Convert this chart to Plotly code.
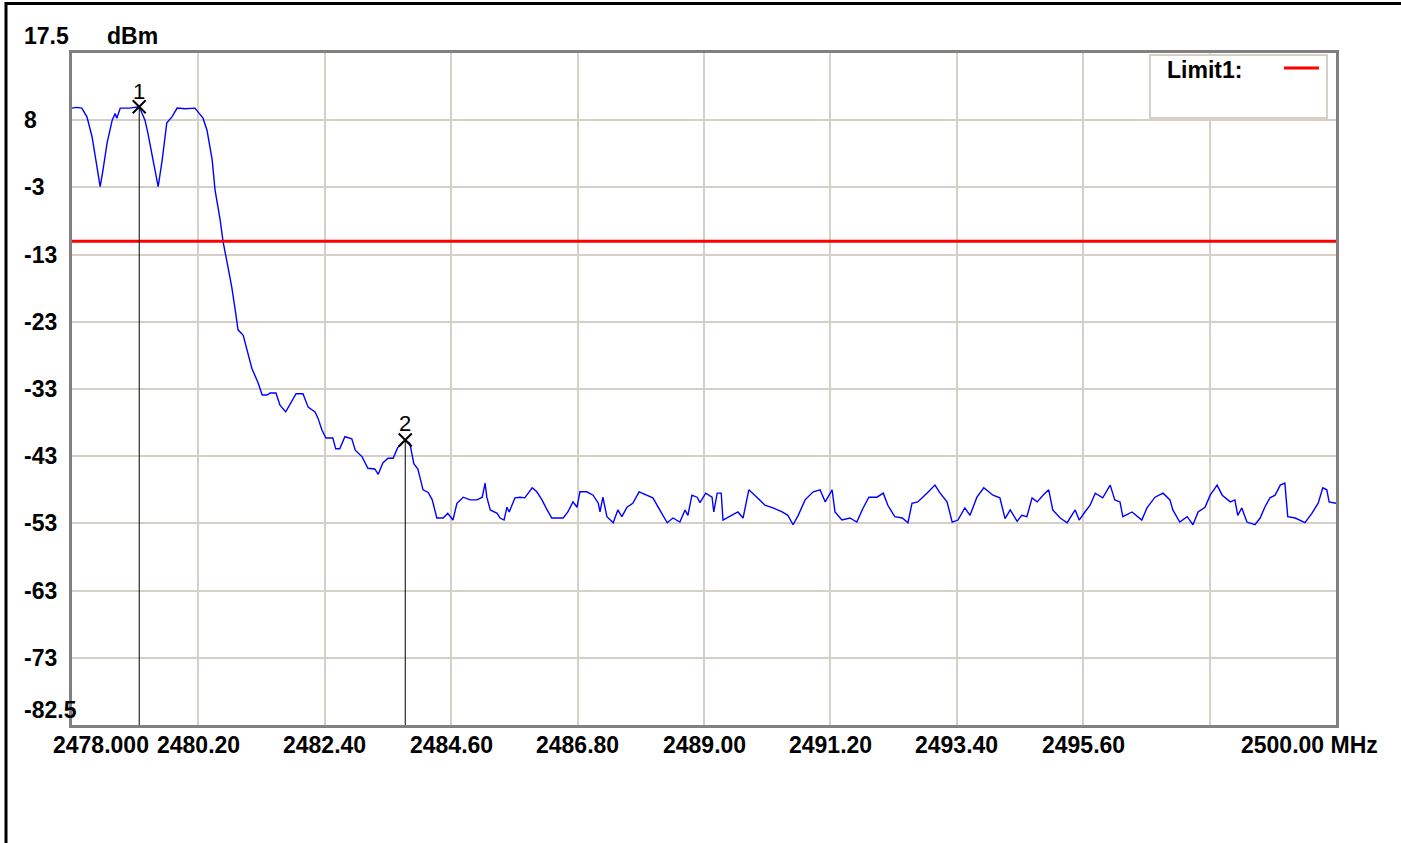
import plotly.graph_objects as go

# ---------------- data ----------------
freq_mhz = [
    2478.00, 2478.08, 2478.17, 2478.26, 2478.35, 2478.44, 2478.49, 2478.54, 2478.61, 2478.70,
    2478.75, 2478.78, 2478.84, 2479.00, 2479.17, 2479.27, 2479.32, 2479.41, 2479.50, 2479.57,
    2479.65, 2479.74, 2479.83, 2479.97, 2480.14, 2480.28, 2480.35, 2480.44, 2480.49, 2480.58,
    2480.63, 2480.70, 2480.78, 2480.84, 2480.89, 2480.98, 2481.06, 2481.13, 2481.24, 2481.31,
    2481.39, 2481.45, 2481.55, 2481.62, 2481.72, 2481.79, 2481.90, 2482.02, 2482.11, 2482.23,
    2482.28, 2482.35, 2482.42, 2482.54, 2482.59, 2482.66, 2482.75, 2482.87, 2482.93, 2483.05,
    2483.15, 2483.27, 2483.33, 2483.41, 2483.50, 2483.59, 2483.67, 2483.80, 2483.88, 2483.95,
    2484.02, 2484.11, 2484.20, 2484.27, 2484.35, 2484.46, 2484.54, 2484.63, 2484.70, 2484.81,
    2484.93, 2485.05, 2485.14, 2485.19, 2485.22, 2485.28, 2485.40, 2485.45, 2485.52, 2485.57,
    2485.61, 2485.71, 2485.80, 2485.88, 2486.01, 2486.09, 2486.18, 2486.27, 2486.35, 2486.55,
    2486.63, 2486.72, 2486.79, 2486.84, 2486.96, 2487.07, 2487.16, 2487.19, 2487.24, 2487.31,
    2487.42, 2487.50, 2487.57, 2487.66, 2487.76, 2487.87, 2488.01, 2488.11, 2488.23, 2488.36,
    2488.46, 2488.58, 2488.67, 2488.72, 2488.79, 2488.88, 2488.93, 2489.03, 2489.14, 2489.17,
    2489.23, 2489.30, 2489.33, 2489.45, 2489.59, 2489.68, 2489.78, 2489.92, 2490.06, 2490.20,
    2490.36, 2490.46, 2490.55, 2490.64, 2490.76, 2490.90, 2491.02, 2491.11, 2491.23, 2491.28,
    2491.40, 2491.54, 2491.66, 2491.77, 2491.87, 2492.01, 2492.12, 2492.20, 2492.32, 2492.45,
    2492.55, 2492.62, 2492.72, 2492.88, 2493.02, 2493.11, 2493.23, 2493.32, 2493.42, 2493.54,
    2493.63, 2493.75, 2493.87, 2494.03, 2494.15, 2494.24, 2494.33, 2494.45, 2494.53, 2494.62,
    2494.71, 2494.80, 2494.90, 2495.00, 2495.07, 2495.20, 2495.32, 2495.46, 2495.53, 2495.63,
    2495.72, 2495.81, 2495.94, 2496.07, 2496.15, 2496.24, 2496.29, 2496.45, 2496.62, 2496.71,
    2496.85, 2496.99, 2497.11, 2497.16, 2497.28, 2497.41, 2497.51, 2497.60, 2497.72, 2497.81,
    2497.93, 2498.02, 2498.16, 2498.24, 2498.29, 2498.36, 2498.45, 2498.59, 2498.68, 2498.76,
    2498.85, 2498.94, 2499.03, 2499.11, 2499.16, 2499.29, 2499.37, 2499.46, 2499.58, 2499.69,
    2499.77, 2499.84, 2499.88, 2500.00,
]
level_dbm = [
    9.3, 9.4, 9.3, 8.0, 5.0, 0.5, -2.4, 0.1, 4.1, 7.5,
    8.5, 7.8, 9.3, 9.3, 9.5, 7.5, 5.6, 1.6, -2.4, 1.6,
    7.1, 8.0, 9.3, 9.2, 9.3, 7.8, 6.0, 1.6, -2.9, -7.4,
    -10.6, -13.7, -17.3, -20.7, -23.7, -24.5, -27.1, -29.4, -31.6, -33.4,
    -33.4, -33.1, -33.1, -34.9, -35.9, -34.9, -33.2, -33.2, -35.2, -35.9,
    -36.8, -38.6, -39.8, -39.8, -41.4, -41.4, -39.6, -39.9, -41.6, -42.6,
    -44.3, -44.4, -45.2, -43.5, -42.8, -42.8, -41.2, -40.1, -40.6, -43.6,
    -44.4, -47.5, -47.9, -49.0, -51.7, -51.7, -51.0, -52.0, -49.5, -48.6,
    -49.0, -49.0, -48.6, -46.5, -48.6, -50.5, -51.0, -51.7, -52.0, -50.1,
    -50.8, -48.7, -48.6, -48.7, -47.2, -47.8, -49.0, -50.5, -51.7, -51.7,
    -50.8, -49.3, -50.1, -47.8, -47.8, -48.3, -49.5, -50.8, -48.6, -51.5,
    -52.4, -50.5, -51.5, -50.1, -49.5, -47.8, -48.3, -48.7, -50.5, -52.4,
    -51.7, -52.3, -50.5, -51.3, -48.3, -48.6, -49.4, -48.0, -48.6, -50.8,
    -48.0, -48.0, -52.0, -51.5, -50.8, -51.7, -47.5, -48.6, -49.8, -50.2,
    -50.8, -51.3, -52.7, -51.3, -49.0, -47.8, -47.5, -49.3, -47.5, -50.8,
    -52.0, -51.7, -52.3, -50.2, -48.6, -48.6, -48.0, -49.8, -51.5, -51.7,
    -52.4, -49.5, -49.3, -48.0, -46.8, -48.0, -49.3, -52.3, -52.0, -50.2,
    -51.3, -48.6, -47.2, -48.3, -48.7, -51.8, -50.5, -52.2, -51.3, -51.5,
    -48.7, -49.3, -48.3, -47.5, -50.5, -51.7, -52.4, -50.5, -52.0, -50.8,
    -49.8, -48.0, -48.7, -46.8, -49.0, -49.3, -51.5, -50.8, -52.0, -50.2,
    -48.6, -48.0, -49.0, -50.5, -52.3, -51.5, -52.7, -50.8, -50.1, -48.3,
    -46.8, -48.3, -49.3, -49.0, -51.3, -50.2, -52.3, -52.7, -51.7, -50.1,
    -48.7, -48.3, -46.8, -46.5, -51.5, -51.7, -52.0, -52.4, -51.0, -49.5,
    -47.2, -47.5, -49.3, -49.5,
]

limit_dbm = -10.5
limit_name = "Limit1:"

marker_labels = ["1", "2"]
marker_freq = [2479.17, 2483.80]
marker_level = [9.5, -40.1]

x_min, x_max = 2478.0, 2500.0
y_min, y_max = -82.5, 17.5
x_grid = [2480.2, 2482.4, 2484.6, 2486.8, 2489.0, 2491.2, 2493.4, 2495.6, 2497.8]
y_grid = [7.5, -2.5, -12.5, -22.5, -32.5, -42.5, -52.5, -62.5, -72.5]

y_tick_vals = [17.5, 7.5, -2.5, -12.5, -22.5, -32.5, -42.5, -52.5, -62.5, -72.5, -82.5]
y_tick_text = ["17.5", "8", "-3", "-13", "-23", "-33", "-43", "-53", "-63", "-73", "-82.5"]
x_tick_vals = [2478.0, 2480.2, 2482.4, 2484.6, 2486.8, 2489.0, 2491.2, 2493.4, 2495.6, 2500.0]
x_tick_text = ["2478.000", "2480.20", "2482.40", "2484.60", "2486.80", "2489.00",
               "2491.20", "2493.40", "2495.60", "2500.00 MHz"]
y_unit = "dBm"

# ---------------- layout constants ----------------
W, H = 1401, 843
ML, MR, MT, MB = 72, 65, 53, 118
PW, PH = W - ML - MR, H - MT - MB
GRID = "#d4d0c8"
FRAME = "#808080"
FONT = dict(family="Liberation Sans, Arial, sans-serif", size=23, color="black", weight="bold")


def px_x(p):
    return (p - ML) / PW


def px_y(p):
    return (H - MB - p) / PH


fig = go.Figure()

fig.add_trace(go.Scatter(x=freq_mhz, y=level_dbm, mode="lines",
                         line=dict(color="#0000ff", width=1.4), hoverinfo="skip"))
fig.add_trace(go.Scatter(x=[x_min, x_max], y=[limit_dbm, limit_dbm], mode="lines",
                         line=dict(color="#ff0000", width=3), hoverinfo="skip"))
for f, v in zip(marker_freq, marker_level):
    fig.add_trace(go.Scatter(x=[f, f], y=[v, y_min], mode="lines",
                             line=dict(color="black", width=1), hoverinfo="skip"))
fig.add_trace(go.Scatter(x=marker_freq, y=marker_level, mode="markers",
                         marker=dict(symbol="x-thin", size=13, color="black",
                                     line=dict(color="black", width=2)),
                         hoverinfo="skip"))

annotations = []
for lab, f, v, ys in zip(marker_labels, marker_freq, marker_level, [15, 17]):
    annotations.append(dict(x=f, y=v, xref="x", yref="y", text=lab, showarrow=False,
                            yshift=ys, font=dict(FONT, size=22, weight="normal")))

for val, txt in zip(y_tick_vals, y_tick_text):
    ys = 0
    if val == y_max:
        ys = 17
    elif val == y_min:
        ys = 15
    annotations.append(dict(x=px_x(22), y=val, xref="paper", yref="y", text=txt,
                            showarrow=False, xanchor="left", yanchor="middle",
                            yshift=ys, font=FONT))
annotations.append(dict(x=px_x(105), y=y_max, xref="paper", yref="y", text=y_unit,
                        showarrow=False, xanchor="left", yanchor="middle", yshift=17,
                        font=FONT))
for val, txt in zip(x_tick_vals, x_tick_text):
    if val == x_min:
        annotations.append(dict(x=px_x(51), y=px_y(745), xref="paper", yref="paper",
                                text=txt, showarrow=False, xanchor="left",
                                yanchor="middle", font=FONT))
    elif val == x_max:
        annotations.append(dict(x=px_x(1239), y=px_y(745), xref="paper", yref="paper",
                                text=txt, showarrow=False, xanchor="left",
                                yanchor="middle", font=FONT))
    else:
        annotations.append(dict(x=val, y=px_y(745), xref="x", yref="paper",
                                text=txt, showarrow=False, xanchor="center",
                                yanchor="middle", font=FONT))
annotations.append(dict(x=px_x(1165), y=px_y(70), xref="paper", yref="paper",
                        text=limit_name, showarrow=False, xanchor="left",
                        yanchor="middle", font=FONT))

shapes = [
    dict(type="line", xref="paper", yref="paper", x0=px_x(6), x1=px_x(6),
         y0=px_y(2), y1=px_y(H + 2), line=dict(color="black", width=3)),
    dict(type="line", xref="paper", yref="paper", x0=px_x(5), x1=px_x(W + 2),
         y0=px_y(3.5), y1=px_y(3.5), line=dict(color="black", width=3)),
    dict(type="rect", xref="paper", yref="paper", x0=px_x(1150), x1=px_x(1327),
         y0=px_y(118), y1=px_y(55), fillcolor="white",
         line=dict(color=GRID, width=2), layer="above"),
    dict(type="line", xref="paper", yref="paper", x0=px_x(1284), x1=px_x(1319),
         y0=px_y(68), y1=px_y(68), line=dict(color="#ff0000", width=3), layer="above"),
]

fig.update_layout(
    width=W, height=H,
    margin=dict(l=ML, r=MR, t=MT, b=MB, pad=0),
    paper_bgcolor="white", plot_bgcolor="white",
    showlegend=False,
    annotations=annotations,
    shapes=shapes,
    xaxis=dict(range=[x_min, x_max], tickvals=x_grid, showticklabels=False,
               showgrid=True, gridcolor=GRID, gridwidth=2, zeroline=False,
               showline=True, mirror=True, linecolor=FRAME, linewidth=3, ticks=""),
    yaxis=dict(range=[y_min, y_max], tickvals=y_grid, showticklabels=False,
               showgrid=True, gridcolor=GRID, gridwidth=2, zeroline=False,
               showline=True, mirror=True, linecolor=FRAME, linewidth=3, ticks=""),
)

fig.write_html("out.html", post_script="document.body.style.margin='0';",
               config={"displayModeBar": False})
